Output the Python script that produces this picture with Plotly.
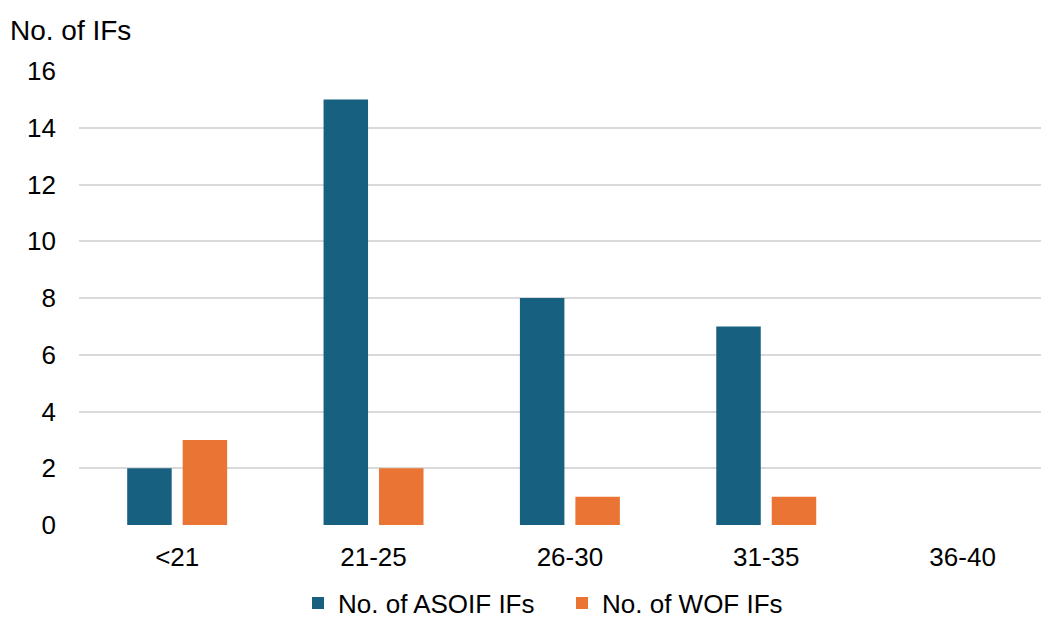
import plotly.graph_objects as go

categories = ["<21", "21-25", "26-30", "31-35", "36-40"]
asoif = [2, 15, 8, 7, 0]
wof = [3, 2, 1, 1, 0]
y_ticks = [0, 2, 4, 6, 8, 10, 12, 14, 16]

# page has an 8px default body margin, so the figure is 8px smaller
W, H = 1041, 611
FONT = "Liberation Sans, Arial, sans-serif"

fig = go.Figure()
fig.add_trace(go.Bar(x=categories, y=asoif, name="No. of ASOIF IFs",
                     marker=dict(color="#17607F", line=dict(width=0)), legend="legend"))
fig.add_trace(go.Bar(x=categories, y=wof, name="No. of WOF IFs",
                     marker=dict(color="#EA7434", line=dict(width=0)), legend="legend2"))

leg_common = dict(orientation="h", xanchor="left", xref="container",
                  y=1 - 595 / H, yanchor="middle", yref="container",
                  font=dict(family=FONT, size=26, color="#000000"),
                  itemwidth=30, tracegroupgap=0, bgcolor="rgba(0,0,0,0)")

fig.update_layout(
    width=W, height=H,
    margin=dict(l=71, r=0, t=63, b=94),
    paper_bgcolor="white", plot_bgcolor="white",
    font=dict(family=FONT, size=26, color="#000000"),
    barmode="group", bargap=0.435, bargroupgap=0.198,
    title=dict(text="No. of IFs", x=2 / W, xanchor="left", xref="container",
               y=1 - 22 / H, yanchor="middle", yref="container",
               font=dict(family=FONT, size=28, color="#000000")),
    legend=dict(x=290 / W, **leg_common),
    legend2=dict(x=554 / W, **leg_common),
    showlegend=True,
)
fig.update_xaxes(range=[-0.5, 4.44], showgrid=False, showline=False, zeroline=False,
                 ticks="", tickfont=dict(size=26, color="#000000"), ticklabelstandoff=14)
fig.update_yaxes(range=[0, 16], tickvals=y_ticks, showgrid=True, gridcolor="#D9D9D9",
                 gridwidth=2, zeroline=False, showline=False, ticks="",
                 tickfont=dict(size=26, color="#000000"), ticklabelstandoff=22)

fig.write_html("out.html")
